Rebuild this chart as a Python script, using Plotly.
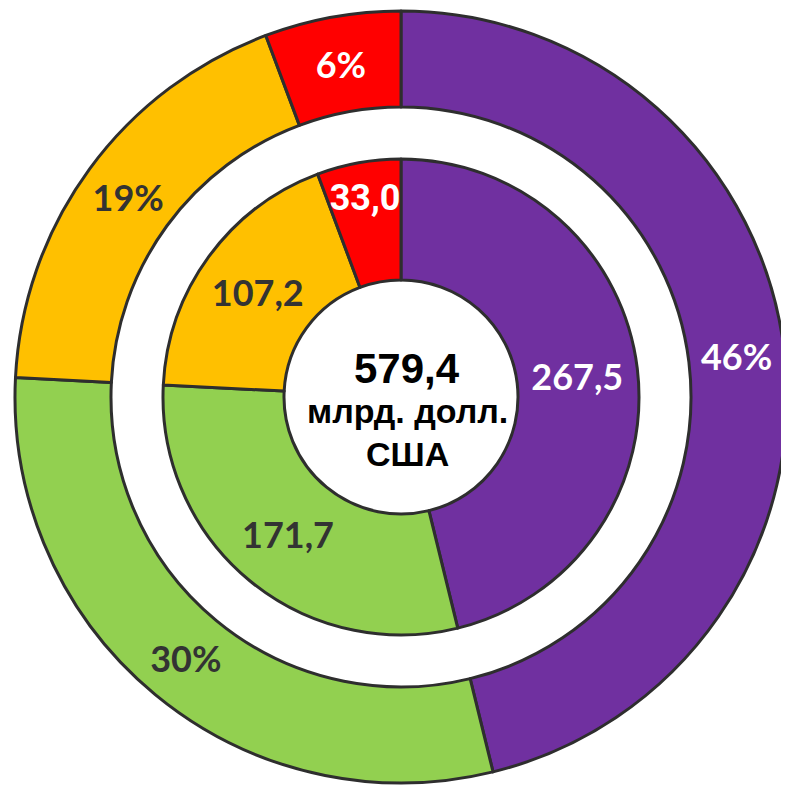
import plotly.graph_objects as go

categories = ["Фиолетовый", "Зелёный", "Жёлтый", "Красный"]
values = [267.5, 171.7, 107.2, 33.0]
total_label = "579,4"
unit_line1 = "млрд. долл."
unit_line2 = "США"

colors = ["#7030A0", "#92D050", "#FFC000", "#FF0000"]
outer_text_colors = ["#FFFFFF", "#333333", "#333333", "#FFFFFF"]
inner_text_colors = ["#FFFFFF", "#333333", "#333333", "#FFFFFF"]
inner_fonts = ["Lato", "Lato", "Lato", "Roboto"]

W, H = 789, 786
# page body has an 8px margin; figure coords = window coords - 8
OFF = 8
cx, cy = 401 - OFF, 397 - OFF
R_out, R_out_hole = 386, 290
R_in, R_in_hole = 238, 117


def dom(r):
    return dict(
        x=[(cx - r) / W, (cx + r) / W],
        y=[1 - (cy + r) / H, 1 - (cy - r) / H],
    )


line = dict(color="#2e2e2e", width=3)

fig = go.Figure()
fig.add_trace(go.Pie(
    labels=categories, values=values, sort=False, direction="clockwise", rotation=0,
    hole=R_out_hole / R_out, domain=dom(R_out),
    marker=dict(colors=colors, line=line),
    texttemplate="%{percent:.0%}", textposition="inside",
    insidetextorientation="horizontal",
    insidetextfont=dict(family="Lato", size=36, color=outer_text_colors, weight="bold"),
    showlegend=False, hoverinfo="label+percent",
))
fig.add_trace(go.Pie(
    labels=categories, values=values, sort=False, direction="clockwise", rotation=0,
    hole=R_in_hole / R_in, domain=dom(R_in),
    marker=dict(colors=colors, line=line),
    texttemplate="%{value:.1f}", textposition="inside",
    insidetextorientation="horizontal",
    insidetextfont=dict(family=inner_fonts, size=36, color=inner_text_colors, weight="bold"),
    showlegend=False, hoverinfo="label+value",
))

tx = 407 - OFF
fig.add_annotation(x=tx / W, y=1 - (368 - OFF) / H, xref="paper", yref="paper", text=f"<b>{total_label}</b>",
                   showarrow=False, font=dict(family="Liberation Sans", size=42, color="#000000"))
fig.add_annotation(x=tx / W, y=1 - (411 - OFF) / H, xref="paper", yref="paper", text=f"<b>{unit_line1}</b>",
                   showarrow=False, font=dict(family="Liberation Sans", size=34, color="#000000"))
fig.add_annotation(x=tx / W, y=1 - (454 - OFF) / H, xref="paper", yref="paper", text=f"<b>{unit_line2}</b>",
                   showarrow=False, font=dict(family="Liberation Sans", size=34, color="#000000"))

fig.update_layout(
    width=W, height=H, margin=dict(l=0, r=0, t=0, b=0),
    paper_bgcolor="white", plot_bgcolor="white", separators=", ",
    uniformtext=dict(minsize=36, mode="show"),
)
fig.write_html("out.html")
